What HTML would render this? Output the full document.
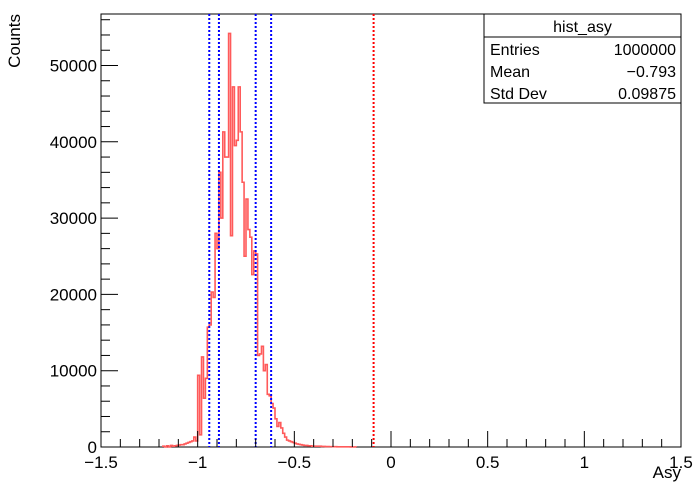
<!DOCTYPE html>
<html><head><meta charset="utf-8"><style>
body{margin:0;background:#fff;}
svg{display:block;font-family:"Liberation Sans",sans-serif;}
</style></head><body>
<svg id="c" width="693" height="489"></svg>
<script>
const binStart = -1.18;
const binWidth = 0.01;
const counts = [100,0,150,0,200,100,150,200,250,300,300,400,500,600,700,800,1300,800,9400,1600,11800,6400,9000,15700,16000,20300,19600,28000,26000,36000,30000,41300,38000,38000,54200,27700,47200,39500,40200,47200,41300,34700,25000,32500,28500,27500,22600,25700,25300,12000,12200,13200,10000,10800,6900,6700,5700,5100,3700,2700,3200,2500,1800,1300,900,800,700,600,500,400,350,300,250,200,200,150,150,100,100,100,100,100,80,80,60,60,50,50,40,40,30,30,30,20,20,20,20,10,10,10];
const blueLines = [-0.94,-0.89,-0.70,-0.62];
const redLines = [-0.09];
const xTicks = [-1.5,-1,-0.5,0,0.5,1,1.5];
const xTickLabels = ["\u22121.5","\u22121","\u22120.5","0","0.5","1","1.5"];
const yTicks = [0,10000,20000,30000,40000,50000];
const yTickLabels = ["0","10000","20000","30000","40000","50000"];
const statRows = [["Entries","1000000"],["Mean","\u22120.793"],["Std Dev","0.09875"]];

const L=101,R=681,T=14,B=447;
const X=v=>L+(v+1.5)/3*(R-L);
const Y=v=>B-v*76.3/10000;
const svg=document.getElementById('c');
const NS='http://www.w3.org/2000/svg';
function mk(t,a,p){const e=document.createElementNS(NS,t);for(const k in a)e.setAttribute(k,a[k]);(p||svg).appendChild(e);return e;}

const fr=mk('rect',{x:L,y:T,width:R-L,height:B-T,fill:'none',stroke:'#000','stroke-width':1});



let d='M'+X(binStart)+','+B;
counts.forEach((c,i)=>{const x0=X(binStart+i*binWidth),x1=X(binStart+(i+1)*binWidth);d+=' L'+x0+','+Y(c)+' L'+x1+','+Y(c);});
d+=' L'+X(binStart+counts.length*binWidth)+','+B;
const h=mk('path',{d:d,fill:'none',stroke:'#ff5a5a','stroke-width':1.6});



blueLines.forEach(v=>{const l=mk('line',{x1:X(v),x2:X(v),y1:T,y2:B,stroke:'#0000ff','stroke-width':2,'stroke-dasharray':'2,2'});

});
redLines.forEach(v=>{const l=mk('line',{x1:X(v),x2:X(v),y1:T,y2:B,stroke:'#ff0000','stroke-width':2,'stroke-dasharray':'2,2'});

});

for(let i=0;i<=30;i++){const v=-1.5+i*0.1;const major=i%5==0;
 mk('line',{x1:X(v),x2:X(v),y1:B,y2:B-(major?16:8),stroke:'#000','stroke-width':1});}
xTicks.forEach((v,i)=>{const t=mk('text',{x:X(v),y:B+21,'text-anchor':'middle','font-size':17});t.textContent=xTickLabels[i];

});
for(let v=0;v<=56000;v+=2000){const major=v%10000==0;
 mk('line',{x1:L,x2:L+(major?17:9),y1:Y(v),y2:Y(v),stroke:'#000','stroke-width':1});}
yTicks.forEach((v,i)=>{const t=mk('text',{x:L-4,y:Y(v)+6,'text-anchor':'end','font-size':17});t.textContent=yTickLabels[i];

});

const xt=mk('text',{x:R,y:478,'text-anchor':'end','font-size':17});xt.textContent='Asy';


const yt=mk('text',{x:20,y:T,'text-anchor':'end','font-size':17,transform:'rotate(-90 20 '+T+')'});yt.textContent='Counts';



const g=mk('g',{});


mk('rect',{x:484,y:14,width:197,height:89,fill:'#fff',stroke:'#000','stroke-width':1},g);
mk('line',{x1:484,x2:681,y1:37,y2:37,stroke:'#000'},g);
const st=mk('text',{x:582.5,y:32,'text-anchor':'middle','font-size':16},g);st.textContent='hist_asy';
statRows.forEach((r,i)=>{const y=55+i*22;
 const a=mk('text',{x:490,y:y,'font-size':16},g);a.textContent=r[0];
 const b=mk('text',{x:676,y:y,'text-anchor':'end','font-size':16},g);b.textContent=r[1];});
</script>
</body></html>
